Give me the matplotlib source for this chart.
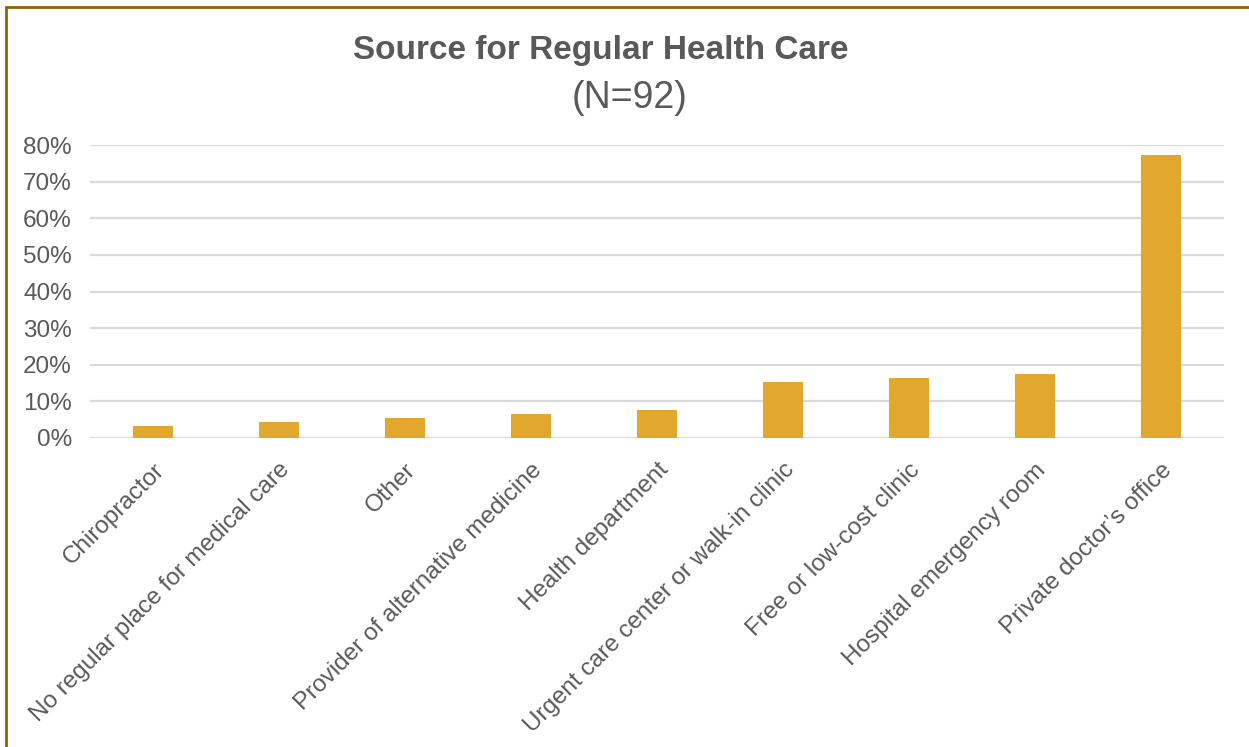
import matplotlib
matplotlib.use("Agg")
import matplotlib.pyplot as plt
from matplotlib.patches import Rectangle
from matplotlib.ticker import PercentFormatter

# data
categories = ["Chiropractor", "No regular place for medical care", "Other",
              "Provider of alternative medicine", "Health department",
              "Urgent care center or walk-in clinic", "Free or low-cost clinic",
              "Hospital emergency room", "Private doctor\u2019s office"]
values = [3.3, 4.3, 5.4, 6.5, 7.6, 15.2, 16.3, 17.4, 77.2]
yticks = [0, 10, 20, 30, 40, 50, 60, 70, 80]

plt.rcParams['font.family'] = ['Liberation Sans', 'DejaVu Sans']
grey = '#595959'

fig = plt.figure(figsize=(12.49, 7.47), dpi=100)
ax = fig.add_axes([90/1249, 1 - 438/747, 1134/1249, 293/747])

x = range(len(categories))
ax.bar(x, values, width=0.31, color='#E2A82E', zorder=3)
ax.set_xlim(-0.5, len(categories) - 0.5)
ax.set_ylim(0, 80)
ax.set_yticks(yticks)
ax.yaxis.set_major_formatter(PercentFormatter(decimals=0))
ax.grid(axis='y', color='#D9D9D9', linewidth=1.6, zorder=0)
for s in ax.spines.values():
    s.set_visible(False)
ax.tick_params(axis='both', length=0, labelsize=17.5, labelcolor=grey)
ax.tick_params(axis='y', pad=13)
ax.tick_params(axis='x', pad=15)
ax.set_xticks(list(x))
ax.set_xticklabels(categories, rotation=45, ha='right', rotation_mode='anchor')

fig.text(601/1249, 1 - 50/747, "Source for Regular Health Care", ha='center', va='center',
         fontsize=24, fontweight='bold', color=grey)
fig.text(630/1249, 1 - 98/747, "(N=92)", ha='center', va='center', fontsize=27, color=grey)

# golden frame round the chart
fig.patches.append(Rectangle((5.5/1249, -0.01), 1.02, 1 - 6.5/747 + 0.01,
                             transform=fig.transFigure, fill=False,
                             edgecolor='#8B6508', linewidth=2))

fig.savefig("out.png", dpi=100)
